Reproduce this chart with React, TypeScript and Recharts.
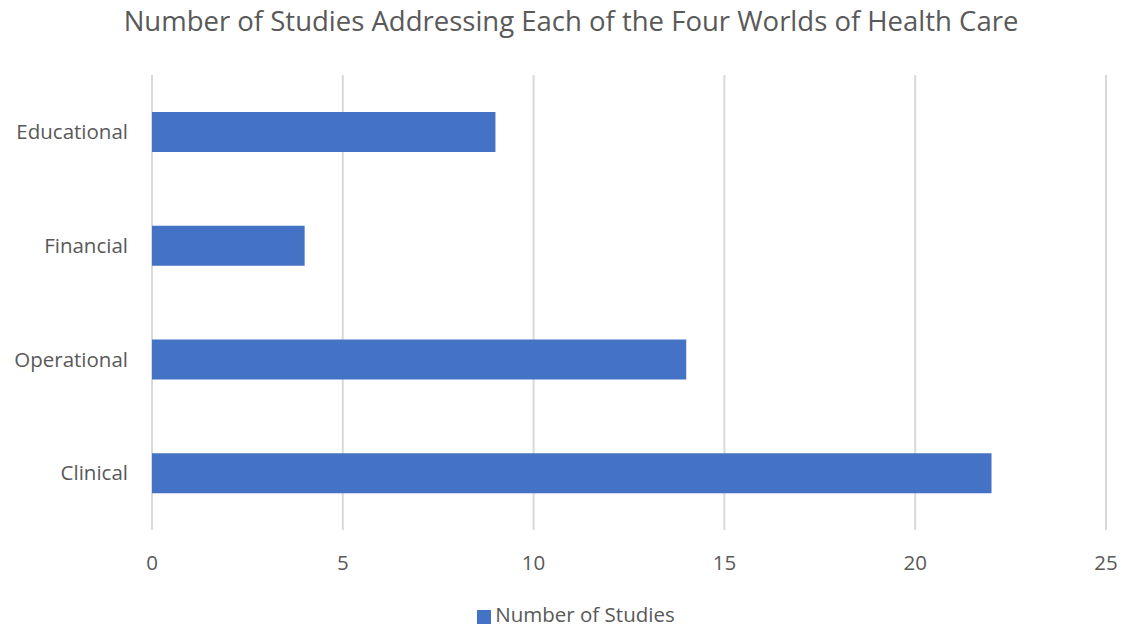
import React from "react";
import {
  BarChart,
  Bar,
  XAxis,
  YAxis,
  CartesianGrid,
  Legend,
} from "recharts";

const categories = ["Educational", "Financial", "Operational", "Clinical"];
const studyCounts = [9, 4, 14, 22];
const xTicks = [0, 5, 10, 15, 20, 25];

const FONT = "'Open Sans', sans-serif";
const TEXT = "#595959";

const chartData = categories.map((name, i) => ({
  name,
  studies: studyCounts[i],
}));

export default function App() {
  return (
    <div
      style={{
        position: "absolute",
        left: 0,
        top: 0,
        width: 1124,
        height: 631,
        background: "#fff",
        fontFamily: FONT,
      }}
    >
      <div
        style={{
          position: "absolute",
          top: 2,
          left: 0,
          width: 1142,
          textAlign: "center",
          fontSize: 27.5,
          color: TEXT,
          whiteSpace: "nowrap",
        }}
      >
        Number of Studies Addressing Each of the Four Worlds of Health Care
      </div>
      <BarChart
        width={1124}
        height={631}
        data={chartData}
        layout="vertical"
        margin={{ top: 75, right: 18, left: 0, bottom: 61 }}
      >
        <CartesianGrid horizontal={false} stroke="#d9d9d9" strokeWidth={2} />
        <XAxis
          type="number"
          domain={[0, 25]}
          ticks={xTicks}
          axisLine={false}
          tickLine={false}
          tickSize={0}
          tickMargin={25}
          height={40}
          tick={{ fontSize: 20.5, fill: TEXT, fontFamily: FONT }}
        />
        <YAxis
          type="category"
          dataKey="name"
          width={152}
          axisLine={false}
          tickLine={false}
          tickSize={0}
          tickMargin={24}
          tick={{ fontSize: 20.5, fill: TEXT, fontFamily: FONT }}
        />
        <Legend
          verticalAlign="middle"
          align="center"
          iconType="square"
          iconSize={14}
          wrapperStyle={{ top: 600, left: 19, width: 1124, fontSize: 20.5 }}
          formatter={(value) => <span style={{ color: TEXT }}>{value}</span>}
        />
        <Bar
          dataKey="studies"
          name="Number of Studies"
          fill="#4472C4"
          barSize={40}
          isAnimationActive={false}
        />
      </BarChart>
    </div>
  );
}
